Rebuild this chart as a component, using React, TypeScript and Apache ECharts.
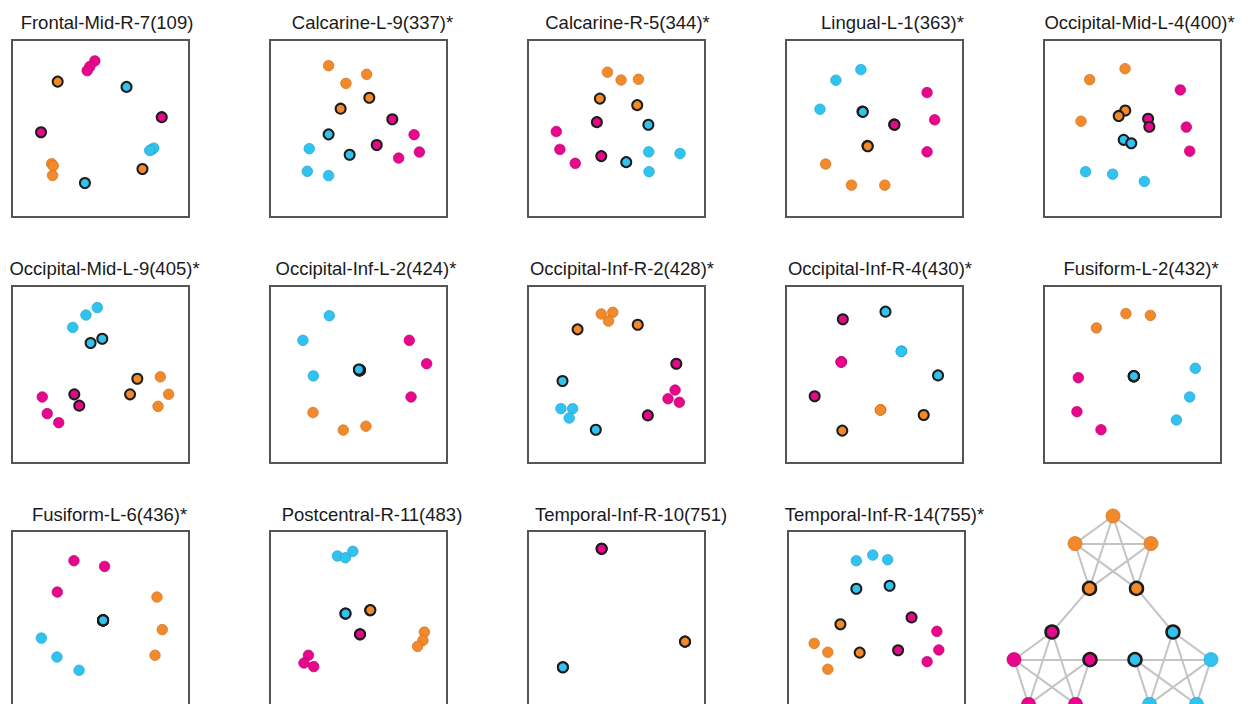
import React, { useEffect, useRef } from "react";
import * as echarts from "echarts";

// community colours: 0 orange, 1 magenta, 2 cyan
const COLORS = ["#F28A2B", "#E8078C", "#30C3F0"];
const EDGE_COLORS = ["#CF6F1C", "#B8006A", "#1FA2CF"];

const titles = [
  "Frontal-Mid-R-7(109)", "Calcarine-L-9(337)*", "Calcarine-R-5(344)*", "Lingual-L-1(363)*", "Occipital-Mid-L-4(400)*",
  "Occipital-Mid-L-9(405)*", "Occipital-Inf-L-2(424)*", "Occipital-Inf-R-2(428)*", "Occipital-Inf-R-4(430)*", "Fusiform-L-2(432)*",
  "Fusiform-L-6(436)*", "Postcentral-R-11(483)", "Temporal-Inf-R-10(751)", "Temporal-Inf-R-14(755)*",
];

// each point: [x, y, community, boundary node (1) or not (0)]
const p01 = [
  [25.8, 76.5, 0, 1], [73.7, 27.1, 0, 1], [22.4, 30.1, 0, 0], [23.3, 28.9, 0, 0], [22.9, 23.5, 0, 0],
  [46.8, 88.2, 1, 0], [44.0, 85.0, 1, 0], [42.5, 82.7, 1, 0], [84.6, 56.4, 1, 1], [16.4, 47.9, 1, 1],
  [64.7, 73.5, 2, 1], [41.2, 19.2, 2, 1], [78.8, 38.0, 2, 0], [80.1, 38.9, 2, 0], [77.8, 37.6, 2, 0],
];
const p02 = [
  [33.1, 85.5, 0, 0], [42.9, 75.5, 0, 0], [54.6, 80.6, 0, 0], [56.1, 67.4, 0, 1], [39.9, 61.2, 0, 1],
  [69.1, 55.2, 1, 1], [60.3, 40.7, 1, 1], [81.4, 46.5, 1, 0], [84.4, 36.7, 1, 0], [72.7, 33.3, 1, 0],
  [33.1, 46.7, 2, 1], [45.0, 35.2, 2, 1], [22.2, 38.6, 2, 0], [21.1, 25.8, 2, 0], [33.1, 23.4, 2, 0],
];
const p03 = [
  [44.9, 81.8, 0, 0], [52.6, 77.4, 0, 0], [62.4, 77.8, 0, 0], [40.6, 66.9, 0, 1], [61.7, 63.2, 0, 1],
  [38.9, 53.6, 1, 1], [41.4, 34.4, 1, 1], [16.0, 48.3, 1, 0], [18.0, 38.2, 1, 0], [26.7, 30.3, 1, 0],
  [68.0, 52.1, 2, 1], [55.5, 31.0, 2, 1], [68.2, 36.8, 2, 0], [85.9, 35.9, 2, 0], [68.4, 25.6, 2, 0],
];
const p04 = [
  [22.4, 29.9, 0, 0], [37.0, 18.0, 0, 0], [55.8, 18.0, 0, 0], [46.0, 40.2, 0, 1], [46.2, 40.0, 0, 1],
  [79.7, 70.3, 1, 0], [84.0, 54.9, 1, 0], [79.7, 36.8, 1, 0], [61.1, 52.3, 1, 1], [61.3, 52.1, 1, 1],
  [42.3, 83.3, 2, 0], [28.2, 77.3, 2, 0], [19.2, 60.9, 2, 0], [43.2, 59.6, 2, 1], [43.4, 59.4, 2, 1],
];
const p05 = [
  [45.8, 83.8, 0, 0], [25.8, 77.6, 0, 0], [20.9, 54.1, 0, 0], [45.9, 60.2, 0, 1], [42.2, 57.1, 0, 1],
  [77.0, 71.8, 1, 0], [80.4, 50.8, 1, 0], [82.3, 37.2, 1, 0], [58.8, 55.5, 1, 1], [59.5, 51.0, 1, 1],
  [23.5, 25.6, 2, 0], [38.8, 24.2, 2, 0], [56.7, 20.1, 2, 0], [45.0, 43.6, 2, 1], [49.3, 41.7, 2, 1],
];
const p06 = [
  [83.8, 48.7, 0, 0], [88.5, 38.8, 0, 0], [82.5, 32.0, 0, 0], [70.8, 47.6, 0, 1], [66.7, 38.8, 0, 1],
  [17.1, 37.3, 1, 0], [19.9, 27.9, 1, 0], [26.4, 22.8, 1, 0], [35.2, 38.8, 1, 1], [38.0, 32.4, 1, 1],
  [48.2, 87.8, 2, 0], [41.8, 83.6, 2, 0], [34.3, 76.6, 2, 0], [51.0, 70.2, 2, 1], [44.4, 67.8, 2, 1],
];
const p07 = [
  [24.3, 28.5, 0, 0], [41.4, 18.6, 0, 0], [54.2, 20.8, 0, 0], [50.8, 52.3, 0, 1], [50.6, 52.5, 0, 1],
  [78.7, 69.3, 1, 0], [88.5, 56.1, 1, 0], [79.7, 37.3, 1, 0], [50.9, 52.6, 1, 1], [50.5, 52.2, 1, 1],
  [33.5, 83.2, 2, 0], [18.6, 69.3, 2, 0], [24.5, 49.2, 2, 0], [50.3, 52.7, 2, 1], [50.2, 52.8, 2, 1],
];
const p08 = [
  [41.4, 84.2, 0, 0], [47.9, 85.1, 0, 0], [45.5, 80.2, 0, 0], [28.0, 75.5, 0, 1], [62.0, 78.1, 0, 1],
  [83.1, 41.2, 1, 0], [79.1, 36.3, 1, 0], [85.5, 34.3, 1, 0], [83.8, 56.1, 1, 1], [67.7, 26.9, 1, 1],
  [18.6, 30.7, 2, 0], [25.2, 30.7, 2, 0], [23.3, 25.4, 2, 0], [19.5, 46.3, 2, 1], [38.3, 18.8, 2, 1],
];
const p09 = [
  [53.4, 30.0, 0, 0], [53.5, 30.1, 0, 0], [53.3, 29.9, 0, 0], [31.8, 18.3, 0, 1], [77.8, 27.1, 0, 1],
  [31.2, 57.1, 1, 0], [31.3, 57.2, 1, 0], [31.1, 57.0, 1, 0], [32.1, 81.2, 1, 1], [16.2, 37.7, 1, 1],
  [65.2, 63.1, 2, 0], [65.3, 63.2, 2, 0], [65.1, 63.0, 2, 0], [56.2, 85.5, 2, 1], [85.9, 49.5, 2, 1],
];
const p10 = [
  [46.3, 84.4, 0, 0], [60.1, 83.4, 0, 0], [29.6, 76.3, 0, 0], [50.7, 49.0, 0, 1], [50.8, 49.1, 0, 1],
  [19.4, 48.2, 1, 0], [18.6, 29.0, 1, 0], [32.2, 18.8, 1, 0], [50.7, 49.0, 1, 1], [50.8, 49.1, 1, 1],
  [85.5, 53.5, 2, 0], [82.3, 37.3, 2, 0], [74.8, 24.3, 2, 0], [50.7, 49.0, 2, 1], [50.8, 49.1, 2, 1],
];
const p11 = [
  [81.9, 62.7, 0, 0], [84.9, 44.3, 0, 0], [80.8, 29.8, 0, 0], [51.4, 49.5, 0, 1], [51.5, 49.6, 0, 1],
  [35.0, 83.2, 1, 0], [52.3, 80.0, 1, 0], [25.6, 65.5, 1, 0], [51.4, 49.5, 1, 1], [51.5, 49.6, 1, 1],
  [16.6, 39.5, 2, 0], [25.4, 28.8, 2, 0], [37.9, 21.3, 2, 0], [51.4, 49.5, 2, 1], [51.5, 49.6, 2, 1],
];
const p12 = [
  [87.2, 42.9, 0, 0], [86.4, 38.2, 0, 0], [83.4, 34.8, 0, 0], [56.6, 55.2, 0, 1], [56.7, 55.3, 0, 1],
  [21.7, 29.8, 1, 0], [19.2, 25.4, 1, 0], [24.7, 23.4, 1, 0], [50.8, 41.6, 1, 1], [50.9, 41.7, 1, 1],
  [38.1, 85.9, 2, 0], [42.6, 84.9, 2, 0], [46.8, 88.5, 2, 0], [42.6, 53.3, 2, 1], [42.7, 53.4, 2, 1],
];
const p13 = [
  [88.7, 37.5, 0, 0], [88.7, 37.5, 0, 0], [88.7, 37.5, 0, 0], [88.7, 37.5, 0, 1], [88.7, 37.5, 0, 1],
  [41.6, 90.0, 1, 0], [41.6, 90.0, 1, 0], [41.6, 90.0, 1, 0], [41.6, 90.0, 1, 1], [41.6, 90.0, 1, 1],
  [19.7, 23.0, 2, 0], [19.7, 23.0, 2, 0], [19.7, 23.0, 2, 0], [19.7, 23.0, 2, 1], [19.7, 23.0, 2, 1],
];
const p14 = [
  [14.8, 36.5, 0, 0], [22.5, 31.5, 0, 0], [22.5, 21.9, 0, 0], [29.6, 47.3, 0, 1], [40.5, 31.3, 0, 1],
  [84.1, 43.3, 1, 0], [85.2, 32.8, 1, 0], [78.6, 26.2, 1, 0], [69.8, 51.2, 1, 1], [62.2, 32.6, 1, 1],
  [38.6, 83.2, 2, 0], [47.9, 86.4, 2, 0], [56.3, 83.8, 2, 0], [38.6, 67.4, 2, 1], [57.4, 69.1, 2, 1],
];
const panels = [p01, p02, p03, p04, p05, p06, p07, p08, p09, p10, p11, p12, p13, p14];

// community-structure graph: node layout [x, y, community, boundary]
const graphNodes = [
  [123, 16, 0, 0], [85, 43.6, 0, 0], [161, 43.6, 0, 0], [99.5, 88.4, 0, 1], [146.5, 88.4, 0, 1],
  [62, 132, 1, 1], [24, 159.6, 1, 0], [100, 159.6, 1, 1], [38.5, 204.4, 1, 0], [85.5, 204.4, 1, 0],
  [183, 132, 2, 1], [145, 159.6, 2, 1], [221, 159.6, 2, 0], [159.5, 204.4, 2, 0], [206.5, 204.4, 2, 0],
];
const bridgeLinks = [[3, 5], [4, 10], [7, 11]];

// layout
const panelLeft = [12, 270, 528, 786, 1044, 12, 270, 528, 786, 1044, 12, 270, 528, 788];
const panelTop = [40, 40, 40, 40, 40, 286, 286, 286, 286, 286, 531, 531, 531, 531];
const titleCenterX = [107, 372.5, 627.5, 892.5, 1139.5, 104.5, 366, 622, 880, 1141, 109.5, 372, 631, 884.5];
const titleCenterY = [22.5, 22.5, 22.5, 22.5, 22.5, 268.5, 268.5, 268.5, 268.5, 268.5, 514, 514, 514, 514];
const BOX = 177;

function buildOption() {
  const grid: any[] = [];
  const xAxis: any[] = [];
  const yAxis: any[] = [];
  const series: any[] = [];
  const graphic: any[] = [];

  panels.forEach((pts, i) => {
    grid.push({
      left: panelLeft[i], top: panelTop[i], width: BOX, height: BOX,
      show: true, borderColor: "#555555", borderWidth: 2, backgroundColor: "transparent",
    });
    xAxis.push({ type: "value", gridIndex: i, min: 0, max: 100, show: false });
    yAxis.push({ type: "value", gridIndex: i, min: 0, max: 100, show: false });
    [0, 1].forEach((b) => {
      const data: any[] = [];
      [0, 1, 2].forEach((c) => {
        pts.filter((p) => p[2] === c && p[3] === b).forEach((p) => {
          data.push({
            value: [p[0], p[1]],
            itemStyle: b
              ? { color: COLORS[c], borderColor: "#1c1c1c", borderWidth: 2, opacity: 1 }
              : { color: COLORS[c], borderColor: EDGE_COLORS[c], borderWidth: 0.7, opacity: 1 },
          });
        });
      });
      series.push({
        type: "scatter", xAxisIndex: i, yAxisIndex: i, symbol: "circle",
        symbolSize: b ? 10 : 10.5, data, silent: true, z: 2 + b, clip: false,
        itemStyle: { opacity: 1 },
      });
    });
    graphic.push({
      type: "text", x: titleCenterX[i], y: titleCenterY[i], silent: true,
      style: {
        text: titles[i], fill: "#1a1a1a", font: '18.5px "Liberation Sans", Arial, sans-serif',
        textAlign: "center", textVerticalAlign: "middle",
      },
    });
  });

  // graph panel
  const gi = panels.length;
  grid.push({ left: 990, top: 500, width: 240, height: 220, show: false });
  xAxis.push({ type: "value", gridIndex: gi, min: 0, max: 240, show: false });
  yAxis.push({ type: "value", gridIndex: gi, min: 0, max: 220, inverse: true, show: false });
  const links: any[] = [];
  for (let i = 0; i < graphNodes.length; i++) {
    for (let j = i + 1; j < graphNodes.length; j++) {
      const a = graphNodes[i], b = graphNodes[j];
      if (a[2] === b[2] && !(a[3] === 1 && b[3] === 1)) links.push({ source: i, target: j });
    }
  }
  bridgeLinks.forEach(([s, t]) => links.push({ source: s, target: t }));
  series.push({
    type: "graph", coordinateSystem: "cartesian2d", xAxisIndex: gi, yAxisIndex: gi,
    silent: true,
    data: graphNodes.map((n) => ({
      value: [n[0], n[1]],
      symbolSize: n[3] ? 13 : 14,
      itemStyle: n[3]
        ? { color: COLORS[n[2]], borderColor: "#1c1c1c", borderWidth: 2.5, opacity: 1 }
        : { color: COLORS[n[2]], borderColor: EDGE_COLORS[n[2]], borderWidth: 0.7, opacity: 1 },
    })),
    links,
    lineStyle: { color: "#C4C4C4", width: 2, opacity: 1, curveness: 0 },
    label: { show: false },
  });

  return {
    animation: false,
    backgroundColor: "#ffffff",
    grid, xAxis, yAxis, series, graphic,
  };
}

export default function App() {
  const ref = useRef<HTMLDivElement>(null);
  useEffect(() => {
    document.body.style.margin = "0";
    document.body.style.overflow = "hidden";
    const chart = echarts.init(ref.current!, null, { renderer: "svg" });
    chart.setOption(buildOption() as any);
    return () => chart.dispose();
  }, []);
  return (
    <div style={{ position: "absolute", left: 0, top: 0, width: 1248, height: 704, overflow: "hidden", background: "#fff" }}>
      <div ref={ref} style={{ width: 1248, height: 724 }} />
    </div>
  );
}
